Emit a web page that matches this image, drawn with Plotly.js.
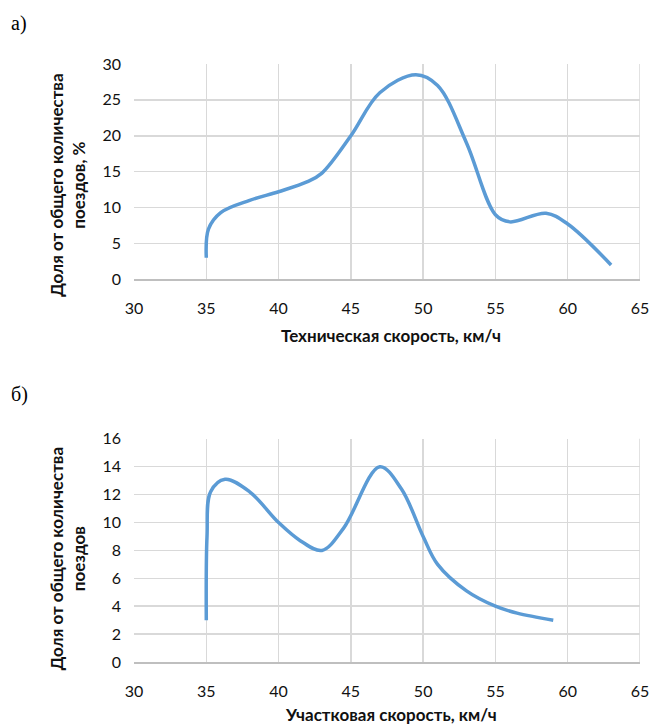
<!DOCTYPE html>
<html>
<head>
<meta charset="utf-8">
<script src="https://cdn.plot.ly/plotly-3.0.1.min.js"></script>
<style>html,body{margin:0;padding:0;background:#fff;}#chart{width:651px;height:726px;}</style>
</head>
<body>
<div id="chart"></div>
<script>
// Chart (а): technical speed
const techSpeed = [35, 35.15, 36, 38, 40, 42, 43, 45, 47, 49.5, 51, 53, 55, 56, 58.5, 60, 63];
const techShare = [3, 7, 9.3, 11, 12.2, 13.6, 14.8, 20, 26, 28.5, 27, 19, 9, 8, 9.2, 7.7, 2];
// Chart (б): section speed
const sectSpeed = [35, 35.05, 35.3, 36.3, 38, 40, 41.5, 43, 44.5, 47, 48.5, 50, 51, 53, 55, 56.5, 59];
const sectShare = [3, 9, 12.2, 13.1, 12.2, 10, 8.7, 8, 9.6, 14, 12.4, 9, 7, 5.1, 4, 3.5, 3];

const xTicks = [30, 35, 40, 45, 50, 55, 60, 65];
const yTicksA = [0, 5, 10, 15, 20, 25, 30];
const yTicksB = [0, 2, 4, 6, 8, 10, 12, 14, 16];

const labelA = 'а)';
const labelB = 'б)';
const xTitleA = 'Техническая скорость, км/ч';
const xTitleB = 'Участковая скорость, км/ч';
const yTitleA = 'Доля от общего количества<br>поездов, %';
const yTitleB = 'Доля от общего количества<br>поездов';

const lineStyle = {color: '#5B9BD5', width: 3.5, shape: 'spline', smoothing: 1};
const traces = [
  {x: techSpeed, y: techShare, type: 'scatter', mode: 'lines', line: lineStyle, xaxis: 'x', yaxis: 'y', hoverinfo: 'skip'},
  {x: sectSpeed, y: sectShare, type: 'scatter', mode: 'lines', line: lineStyle, xaxis: 'x2', yaxis: 'y2', hoverinfo: 'skip'}
];

const tickFont = {family: 'Lato, "Open Sans", sans-serif', size: 16, color: '#111'};
const titleFont = {family: 'Lato, "Open Sans", sans-serif', size: 17, color: '#111', weight: 'bold'};

function xAxis(anchor) {
  return {
    range: [30, 65], tickvals: xTicks, ticktext: xTicks.map(String), anchor: anchor,
    showgrid: true, gridcolor: '#D9D9D9', gridwidth: 1.5,
    showline: true, linecolor: '#BFBFBF', linewidth: 1.5, mirror: false,
    zeroline: false, ticks: '', tickfont: tickFont, ticklabelstandoff: 14, fixedrange: true
  };
}
function yAxis(anchor, dom, rng, ticks) {
  return {
    domain: dom, range: rng, tickvals: ticks, ticktext: ticks.map(String), anchor: anchor,
    showgrid: true, gridcolor: '#D9D9D9', gridwidth: 1.5, zeroline: false,
    showline: false, ticks: '', tickfont: tickFont, ticklabelstandoff: 12, fixedrange: true
  };
}

const layout = {
  width: 651, height: 726,
  margin: {l: 134.4, r: 10.5, t: 64, b: 63.7},
  paper_bgcolor: '#fff', plot_bgcolor: '#fff',
  showlegend: false,
  xaxis: xAxis('y'),
  yaxis: yAxis('x', [0.640, 1], [0, 30], yTicksA),
  xaxis2: xAxis('y2'),
  yaxis2: yAxis('x2', [0, 0.3732], [0, 16], yTicksB),
  shapes: [
    {type: 'line', xref: 'x', yref: 'y domain', x0: 65, x1: 65, y0: 0, y1: 1, line: {color: '#D9D9D9', width: 1.5}, layer: 'below'},
    {type: 'line', xref: 'x2', yref: 'y2 domain', x0: 65, x1: 65, y0: 0, y1: 1, line: {color: '#D9D9D9', width: 1.5}, layer: 'below'}
  ],
  annotations: [
    {text: labelA, xref: 'paper', yref: 'paper', x: -0.248, y: 1.067, xanchor: 'left', yanchor: 'middle', showarrow: false,
     font: {family: '"Liberation Serif", "Times New Roman", serif', size: 20, color: '#000'}},
    {text: labelB, xref: 'paper', yref: 'paper', x: -0.248, y: 0.447, xanchor: 'left', yanchor: 'middle', showarrow: false,
     font: {family: '"Liberation Serif", "Times New Roman", serif', size: 20, color: '#000'}},
    {text: xTitleA, xref: 'x', yref: 'paper', x: 47.8, y: 0.64, yshift: -56, xanchor: 'center', yanchor: 'middle', showarrow: false, font: titleFont},
    {text: xTitleB, xref: 'x2', yref: 'paper', x: 47.8, y: 0, yshift: -52, xanchor: 'center', yanchor: 'middle', showarrow: false, font: titleFont},
    {text: yTitleA, xref: 'paper', yref: 'y', x: 0, xshift: -66.5, y: 13.1, textangle: -90, xanchor: 'center', yanchor: 'middle', showarrow: false, font: titleFont},
    {text: yTitleB, xref: 'paper', yref: 'y2', x: 0, xshift: -66.5, y: 7.4, textangle: -90, xanchor: 'center', yanchor: 'middle', showarrow: false, font: titleFont}
  ]
};

Plotly.newPlot('chart', traces, layout, {displayModeBar: false, staticPlot: true});
</script>
</body>
</html>
